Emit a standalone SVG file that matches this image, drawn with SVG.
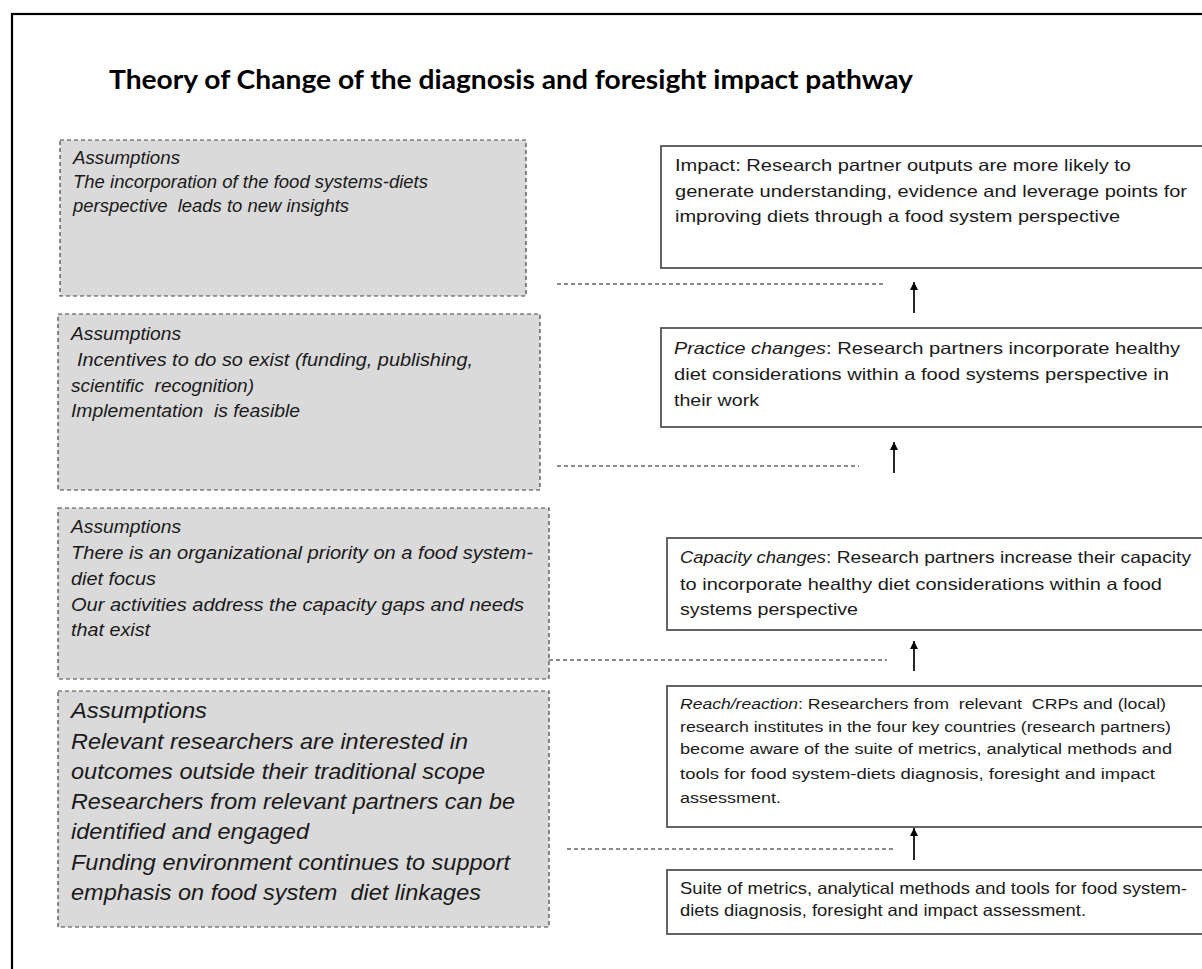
<svg xmlns="http://www.w3.org/2000/svg" width="1202" height="969" viewBox="0 0 1202 969">
  <style>
    text { font-family: "Liberation Sans", Arial, sans-serif; fill: #1a1a1a; white-space: pre; }
    .title { font-family: "Lato", "Open Sans", sans-serif; font-weight: 700; font-size: 27px; fill: #000; }
    .as { font-style: italic; font-size: 17.5px; }
    .as-big { font-style: italic; font-size: 21.5px; }
    .out { font-size: 16.5px; }
    .out-s { font-size: 15.5px; }
    .it { font-style: italic; }
    .assume { fill: #dadada; stroke: #444; stroke-width: 1.2; stroke-dasharray: 4 3; }
    .result { fill: #fff; stroke: #555; stroke-width: 1.8; }
    .link { stroke: #666; stroke-width: 1.4; stroke-dasharray: 4 3; fill: none; }
    .arrow { stroke: #000; stroke-width: 1.7; fill: none; marker-end: url(#head); }
  </style>
  <defs>
    <marker id="head" viewBox="0 0 10 10" refX="10" refY="5" markerWidth="11" markerHeight="8" markerUnits="userSpaceOnUse" orient="auto">
      <path d="M0,0 L10,5 L0,10 z" fill="#000"/>
    </marker>
  </defs>

  <rect x="0" y="0" width="1202" height="969" fill="#fff"/>
  <!-- frame -->
  <rect x="12" y="14" width="1210" height="980" fill="none" stroke="#000" stroke-width="2.2"/>

  <text class="title" x="109" y="89" textLength="804" lengthAdjust="spacingAndGlyphs">Theory of Change of the diagnosis and foresight impact pathway</text>

  <!-- assumption boxes -->
  <g id="assumptions-impact">
    <rect class="assume" x="60" y="140" width="466" height="156"/>
    <text class="as" x="73" y="164" textLength="107" lengthAdjust="spacingAndGlyphs">Assumptions</text>
    <text class="as" x="73" y="188" textLength="355" lengthAdjust="spacingAndGlyphs">The incorporation of the food systems-diets</text>
    <text class="as" x="73" y="212" textLength="276" lengthAdjust="spacingAndGlyphs">perspective  leads to new insights</text>
  </g>

  <g id="assumptions-practice">
    <rect class="assume" x="58" y="314" width="482" height="176"/>
    <text class="as" x="71" y="340" textLength="110" lengthAdjust="spacingAndGlyphs">Assumptions</text>
    <text class="as" x="77" y="366" textLength="396" lengthAdjust="spacingAndGlyphs">Incentives to do so exist (funding, publishing,</text>
    <text class="as" x="71" y="392" textLength="183" lengthAdjust="spacingAndGlyphs">scientific  recognition)</text>
    <text class="as" x="71" y="417" textLength="229" lengthAdjust="spacingAndGlyphs">Implementation  is feasible</text>
  </g>

  <g id="assumptions-capacity">
    <rect class="assume" x="58" y="508" width="491" height="171"/>
    <text class="as" x="71" y="533" textLength="110" lengthAdjust="spacingAndGlyphs">Assumptions</text>
    <text class="as" x="71" y="559" textLength="462" lengthAdjust="spacingAndGlyphs">There is an organizational priority on a food system-</text>
    <text class="as" x="71" y="585" textLength="85" lengthAdjust="spacingAndGlyphs">diet focus</text>
    <text class="as" x="71" y="611" textLength="453" lengthAdjust="spacingAndGlyphs">Our activities address the capacity gaps and needs</text>
    <text class="as" x="71" y="636" textLength="79" lengthAdjust="spacingAndGlyphs">that exist</text>
  </g>

  <g id="assumptions-reach">
    <rect class="assume" x="58" y="691" width="491" height="236"/>
    <text class="as-big" x="71" y="718" textLength="136" lengthAdjust="spacingAndGlyphs">Assumptions</text>
    <text class="as-big" x="71" y="749" textLength="397" lengthAdjust="spacingAndGlyphs">Relevant researchers are interested in</text>
    <text class="as-big" x="71" y="779" textLength="414" lengthAdjust="spacingAndGlyphs">outcomes outside their traditional scope</text>
    <text class="as-big" x="71" y="809" textLength="444" lengthAdjust="spacingAndGlyphs">Researchers from relevant partners can be</text>
    <text class="as-big" x="71" y="839" textLength="238" lengthAdjust="spacingAndGlyphs">identified and engaged</text>
    <text class="as-big" x="71" y="870" textLength="439" lengthAdjust="spacingAndGlyphs">Funding environment continues to support</text>
    <text class="as-big" x="71" y="900" textLength="410" lengthAdjust="spacingAndGlyphs">emphasis on food system  diet linkages</text>
  </g>

  <!-- results chain -->
  <g id="impact">
    <rect class="result" x="661" y="146" width="560" height="122"/>
    <text class="out" x="675" y="171" textLength="456" lengthAdjust="spacingAndGlyphs">Impact: Research partner outputs are more likely to</text>
    <text class="out" x="675" y="197" textLength="512" lengthAdjust="spacingAndGlyphs">generate understanding, evidence and leverage points for</text>
    <text class="out" x="675" y="222" textLength="445" lengthAdjust="spacingAndGlyphs">improving diets through a food system perspective</text>
  </g>

  <g id="practice-changes">
    <rect class="result" x="661" y="328" width="560" height="99"/>
    <text class="out it" x="674" y="354" textLength="152" lengthAdjust="spacingAndGlyphs">Practice changes</text>
    <text class="out" x="826" y="354" textLength="354" lengthAdjust="spacingAndGlyphs">: Research partners incorporate healthy</text>
    <text class="out" x="674" y="380" textLength="495" lengthAdjust="spacingAndGlyphs">diet considerations within a food systems perspective in</text>
    <text class="out" x="674" y="406" textLength="85" lengthAdjust="spacingAndGlyphs">their work</text>
  </g>

  <g id="capacity-changes">
    <rect class="result" x="667" y="538" width="560" height="92"/>
    <text class="out it" x="680" y="563" textLength="146" lengthAdjust="spacingAndGlyphs">Capacity changes</text>
    <text class="out" x="826" y="563" textLength="365" lengthAdjust="spacingAndGlyphs">: Research partners increase their capacity</text>
    <text class="out" x="680" y="590" textLength="482" lengthAdjust="spacingAndGlyphs">to incorporate healthy diet considerations within a food</text>
    <text class="out" x="680" y="615" textLength="178" lengthAdjust="spacingAndGlyphs">systems perspective</text>
  </g>

  <g id="reach-reaction">
    <rect class="result" x="667" y="686" width="560" height="141"/>
    <text class="out-s it" x="680" y="709" textLength="118" lengthAdjust="spacingAndGlyphs">Reach/reaction</text>
    <text class="out-s" x="798" y="709" textLength="368" lengthAdjust="spacingAndGlyphs">: Researchers from  relevant  CRPs and (local)</text>
    <text class="out-s" x="680" y="732" textLength="491" lengthAdjust="spacingAndGlyphs">research institutes in the four key countries (research partners)</text>
    <text class="out-s" x="680" y="754" textLength="492" lengthAdjust="spacingAndGlyphs">become aware of the suite of metrics, analytical methods and</text>
    <text class="out-s" x="680" y="779" textLength="475" lengthAdjust="spacingAndGlyphs">tools for food system-diets diagnosis, foresight and impact</text>
    <text class="out-s" x="680" y="803" textLength="101" lengthAdjust="spacingAndGlyphs">assessment.</text>
  </g>

  <g id="outputs">
    <rect class="result" x="667" y="870" width="560" height="64"/>
    <text class="out" x="680" y="894" textLength="507" lengthAdjust="spacingAndGlyphs">Suite of metrics, analytical methods and tools for food system-</text>
    <text class="out" x="680" y="916" textLength="406" lengthAdjust="spacingAndGlyphs">diets diagnosis, foresight and impact assessment.</text>
  </g>

  <!-- connectors: assumption leaders and upward arrows -->
  <g id="connectors">
    <line class="link" x1="557" y1="284" x2="884" y2="284"/>
    <line class="link" x1="557" y1="466" x2="859" y2="466"/>
    <line class="link" x1="549" y1="660" x2="887" y2="660"/>
    <line class="link" x1="567" y1="849" x2="895" y2="849"/>
    <line class="arrow" x1="914" y1="313" x2="914" y2="282"/>
    <line class="arrow" x1="894" y1="473" x2="894" y2="442"/>
    <line class="arrow" x1="914" y1="671" x2="914" y2="641"/>
    <line class="arrow" x1="914" y1="860" x2="914" y2="828"/>
  </g>
</svg>
